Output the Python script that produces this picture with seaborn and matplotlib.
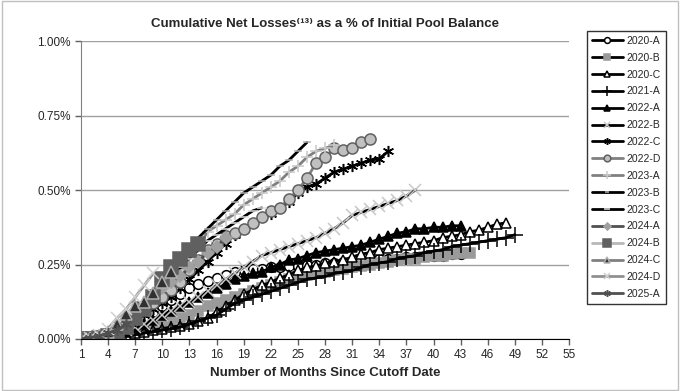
import numpy as np
import pandas as pd
import matplotlib
matplotlib.use('Agg')
import matplotlib.pyplot as plt
import seaborn as sns
from matplotlib.ticker import FuncFormatter, MultipleLocator

sns.set_style('white')
plt.rcParams['font.family'] = ['Liberation Sans', 'DejaVu Sans']

# cumulative net losses, % of initial pool balance, month 1 onwards
s2020_a = [0, 0, 0.005, 0.01, 0.02, 0.035, 0.05, 0.07, 0.09, 0.11, 0.13, 0.15, 0.17, 0.185, 0.195,
           0.205, 0.215, 0.225, 0.23, 0.235, 0.235, 0.24, 0.24, 0.245, 0.245, 0.25, 0.25, 0.255,
           0.255, 0.26, 0.26, 0.265, 0.265, 0.27, 0.27, 0.27, 0.275, 0.275, 0.28, 0.28, 0.28,
           0.285, 0.285]
s2020_b = [0, 0, 0, 0.005, 0.01, 0.015, 0.02, 0.03, 0.04, 0.05, 0.06, 0.07, 0.08, 0.095, 0.11,
           0.12, 0.13, 0.14, 0.15, 0.16, 0.17, 0.18, 0.19, 0.2, 0.21, 0.215, 0.22, 0.225, 0.23,
           0.235, 0.24, 0.245, 0.25, 0.255, 0.26, 0.265, 0.27, 0.27, 0.275, 0.28, 0.28, 0.285,
           0.29, 0.29]
s2020_c = [0, 0, 0, 0.005, 0.01, 0.015, 0.02, 0.025, 0.03, 0.035, 0.04, 0.045, 0.05, 0.06, 0.07,
           0.09, 0.11, 0.13, 0.15, 0.165, 0.18, 0.19, 0.205, 0.215, 0.23, 0.24, 0.245, 0.255,
           0.26, 0.265, 0.275, 0.285, 0.29, 0.3, 0.305, 0.31, 0.315, 0.32, 0.325, 0.33, 0.34,
           0.345, 0.35, 0.36, 0.365, 0.375, 0.385, 0.39]
s2021_a = [0, 0, 0, 0, 0.005, 0.01, 0.015, 0.02, 0.025, 0.03, 0.035, 0.04, 0.05, 0.06, 0.07,
           0.08, 0.1, 0.12, 0.13, 0.14, 0.15, 0.16, 0.17, 0.18, 0.19, 0.2, 0.205, 0.21, 0.22,
           0.225, 0.23, 0.24, 0.25, 0.255, 0.26, 0.27, 0.275, 0.28, 0.29, 0.295, 0.3, 0.31,
           0.315, 0.32, 0.325, 0.33, 0.335, 0.34, 0.35]
s2022_a = [0, 0, 0.005, 0.01, 0.015, 0.025, 0.04, 0.05, 0.065, 0.08, 0.095, 0.11, 0.125, 0.14,
           0.155, 0.17, 0.185, 0.2, 0.21, 0.22, 0.225, 0.24, 0.25, 0.265, 0.27, 0.28, 0.29,
           0.295, 0.3, 0.305, 0.31, 0.315, 0.325, 0.335, 0.345, 0.355, 0.36, 0.37, 0.37, 0.375,
           0.375, 0.38, 0.38]
s2022_b = [0, 0, 0.005, 0.01, 0.02, 0.03, 0.04, 0.05, 0.065, 0.08, 0.095, 0.11, 0.125, 0.14,
           0.16, 0.18, 0.2, 0.22, 0.24, 0.26, 0.28, 0.29, 0.3, 0.31, 0.32, 0.33, 0.34, 0.355,
           0.37, 0.39, 0.415, 0.425, 0.435, 0.445, 0.455, 0.465, 0.48, 0.5]
s2022_c = [0, 0, 0.005, 0.01, 0.02, 0.04, 0.06, 0.08, 0.1, 0.12, 0.14, 0.17, 0.2, 0.23, 0.26,
           0.29, 0.32, 0.35, 0.37, 0.39, 0.41, 0.42, 0.44, 0.46, 0.49, 0.51, 0.52, 0.54, 0.56,
           0.57, 0.58, 0.59, 0.6, 0.605, 0.63]
s2022_d = [0, 0.005, 0.01, 0.02, 0.04, 0.06, 0.08, 0.1, 0.12, 0.14, 0.165, 0.19, 0.23, 0.265,
           0.3, 0.32, 0.345, 0.355, 0.37, 0.39, 0.41, 0.43, 0.44, 0.47, 0.5, 0.54, 0.59, 0.61,
           0.64, 0.635, 0.64, 0.66, 0.67]
s2023_a = [0, 0.005, 0.01, 0.02, 0.03, 0.05, 0.07, 0.1, 0.13, 0.16, 0.19, 0.23, 0.27, 0.31,
           0.36, 0.38, 0.4, 0.42, 0.45, 0.47, 0.49, 0.51, 0.53, 0.56, 0.58, 0.61, 0.63, 0.64,
           0.65]
s2023_b = [0, 0.005, 0.01, 0.02, 0.04, 0.06, 0.09, 0.12, 0.16, 0.2, 0.24, 0.27, 0.31, 0.34,
           0.37, 0.4, 0.43, 0.46, 0.49, 0.51, 0.53, 0.55, 0.58, 0.6, 0.63, 0.66]
s2023_c = [0, 0.005, 0.01, 0.02, 0.04, 0.06, 0.09, 0.12, 0.15, 0.18, 0.21, 0.24, 0.27, 0.3,
           0.33, 0.35, 0.37, 0.39, 0.41, 0.43, 0.44]
s2024_a = [0, 0.005, 0.01, 0.02, 0.04, 0.06, 0.08, 0.11, 0.14, 0.17, 0.19, 0.21, 0.24, 0.26,
           0.29, 0.31, 0.34]
s2024_b = [0, 0, 0.005, 0.01, 0.02, 0.04, 0.07, 0.1, 0.14, 0.2, 0.24, 0.27, 0.3, 0.32]
s2024_c = [0, 0.005, 0.01, 0.025, 0.05, 0.085, 0.11, 0.125, 0.155, 0.19, 0.225]
s2024_d = [0, 0.005, 0.015, 0.035, 0.07, 0.1, 0.14, 0.18, 0.22]
s2025_a = [0, 0.005, 0.01, 0.02, 0.03, 0.05]

names = ['2020-A', '2020-B', '2020-C', '2021-A', '2022-A', '2022-B', '2022-C', '2022-D',
         '2023-A', '2023-B', '2023-C', '2024-A', '2024-B', '2024-C', '2024-D', '2025-A']
series = [s2020_a, s2020_b, s2020_c, s2021_a, s2022_a, s2022_b, s2022_c, s2022_d,
          s2023_a, s2023_b, s2023_c, s2024_a, s2024_b, s2024_c, s2024_d, s2025_a]

ast = (6, 2, 0)
styles = {
    '2020-A': dict(color='black', marker='o', mfc='white', mec='black', ms=7),
    '2020-B': dict(color='black', marker='s', mfc='#9a9a9a', mec='#9a9a9a', ms=7),
    '2020-C': dict(color='black', marker='^', mfc='white', mec='black', ms=7),
    '2021-A': dict(color='black', marker='+', mfc='black', mec='black', ms=11),
    '2022-A': dict(color='black', marker='^', mfc='black', mec='black', ms=7),
    '2022-B': dict(color='black', marker='x', mfc='#c8c8c8', mec='#c8c8c8', ms=8),
    '2022-C': dict(color='black', marker=ast, mfc='black', mec='black', ms=8),
    '2022-D': dict(color='#808080', marker='o', mfc='#c0c0c0', mec='#606060', ms=8),
    '2023-A': dict(color='#808080', marker='+', mfc='#c8c8c8', mec='#c8c8c8', ms=9),
    '2023-B': dict(color='black', marker='_', mfc='#b0b0b0', mec='#b0b0b0', ms=6),
    '2023-C': dict(color='black', marker='_', mfc='white', mec='#e0e0e0', ms=7),
    '2024-A': dict(color='#505050', marker='D', mfc='#a0a0a0', mec='#a0a0a0', ms=6),
    '2024-B': dict(color='#b8b8b8', marker='s', mfc='#606060', mec='#606060', ms=10),
    '2024-C': dict(color='#808080', marker='^', mfc='#303030', mec='#b0b0b0', ms=8),
    '2024-D': dict(color='#909090', marker='x', mfc='#d0d0d0', mec='#d0d0d0', ms=8),
    '2025-A': dict(color='#505050', marker=ast, mfc='#505050', mec='#505050', ms=8),
}

rows = []
for name, vals in zip(names, series):
    for m, v in enumerate(vals, start=1):
        rows.append({'series': name, 'month': m, 'loss': v})
df = pd.DataFrame(rows)

fig, ax = plt.subplots(figsize=(6.8, 3.91), dpi=100)
fig.subplots_adjust(left=0.119, right=0.837, top=0.895, bottom=0.133)

handles = []
for name in names:
    st = styles[name]
    sub = df[df['series'] == name]
    sns.lineplot(data=sub, x='month', y='loss', ax=ax, color=st['color'], linewidth=2.0,
                 marker=st['marker'], markerfacecolor=st['mfc'], markeredgecolor=st['mec'],
                 markersize=st['ms'], markeredgewidth=1.1, label=name, legend=False)
    handles.append(ax.lines[-1])

ax.set_xlim(1, 55)
ax.set_ylim(0, 1.0)
ax.set_xticks(np.arange(1, 56, 3))
ax.yaxis.set_major_locator(MultipleLocator(0.25))
ax.yaxis.set_major_formatter(FuncFormatter(lambda v, p: f'{v:.2f}%'))
ax.grid(axis='y', color='#a0a0a0', linewidth=1)
ax.grid(axis='x', visible=False)
ax.set_axisbelow(True)
for side in ['top', 'right']:
    ax.spines[side].set_visible(False)
ax.spines['left'].set_color('#808080')
ax.spines['bottom'].set_color('black')
ax.tick_params(axis='both', direction='out', length=4, width=1, labelsize=8.5,
               bottom=True, left=True, color='#606060')
ax.set_xlabel('Number of Months Since Cutoff Date', fontsize=9.5, fontweight='bold')
ax.set_ylabel('')
ax.set_title('Cumulative Net Losses\u207d\u00b9\u00b3\u207e as a % of Initial Pool Balance',
             fontsize=9.5, fontweight='bold', pad=10)

leg = fig.legend(handles, names, loc='upper left', bbox_to_anchor=(0.855, 0.935),
                 fontsize=7.5, frameon=True, fancybox=False, edgecolor='black',
                 handlelength=3.0, handletextpad=0.3, labelspacing=0.66, borderpad=0.5,
                 markerscale=0.6)
leg.get_frame().set_linewidth(1)

fig.patches.append(plt.Rectangle((0.003, 0.003), 0.994, 0.994, transform=fig.transFigure,
                                 fill=False, edgecolor='#c0c0c0', linewidth=1))

fig.savefig('out.png', dpi=100)
